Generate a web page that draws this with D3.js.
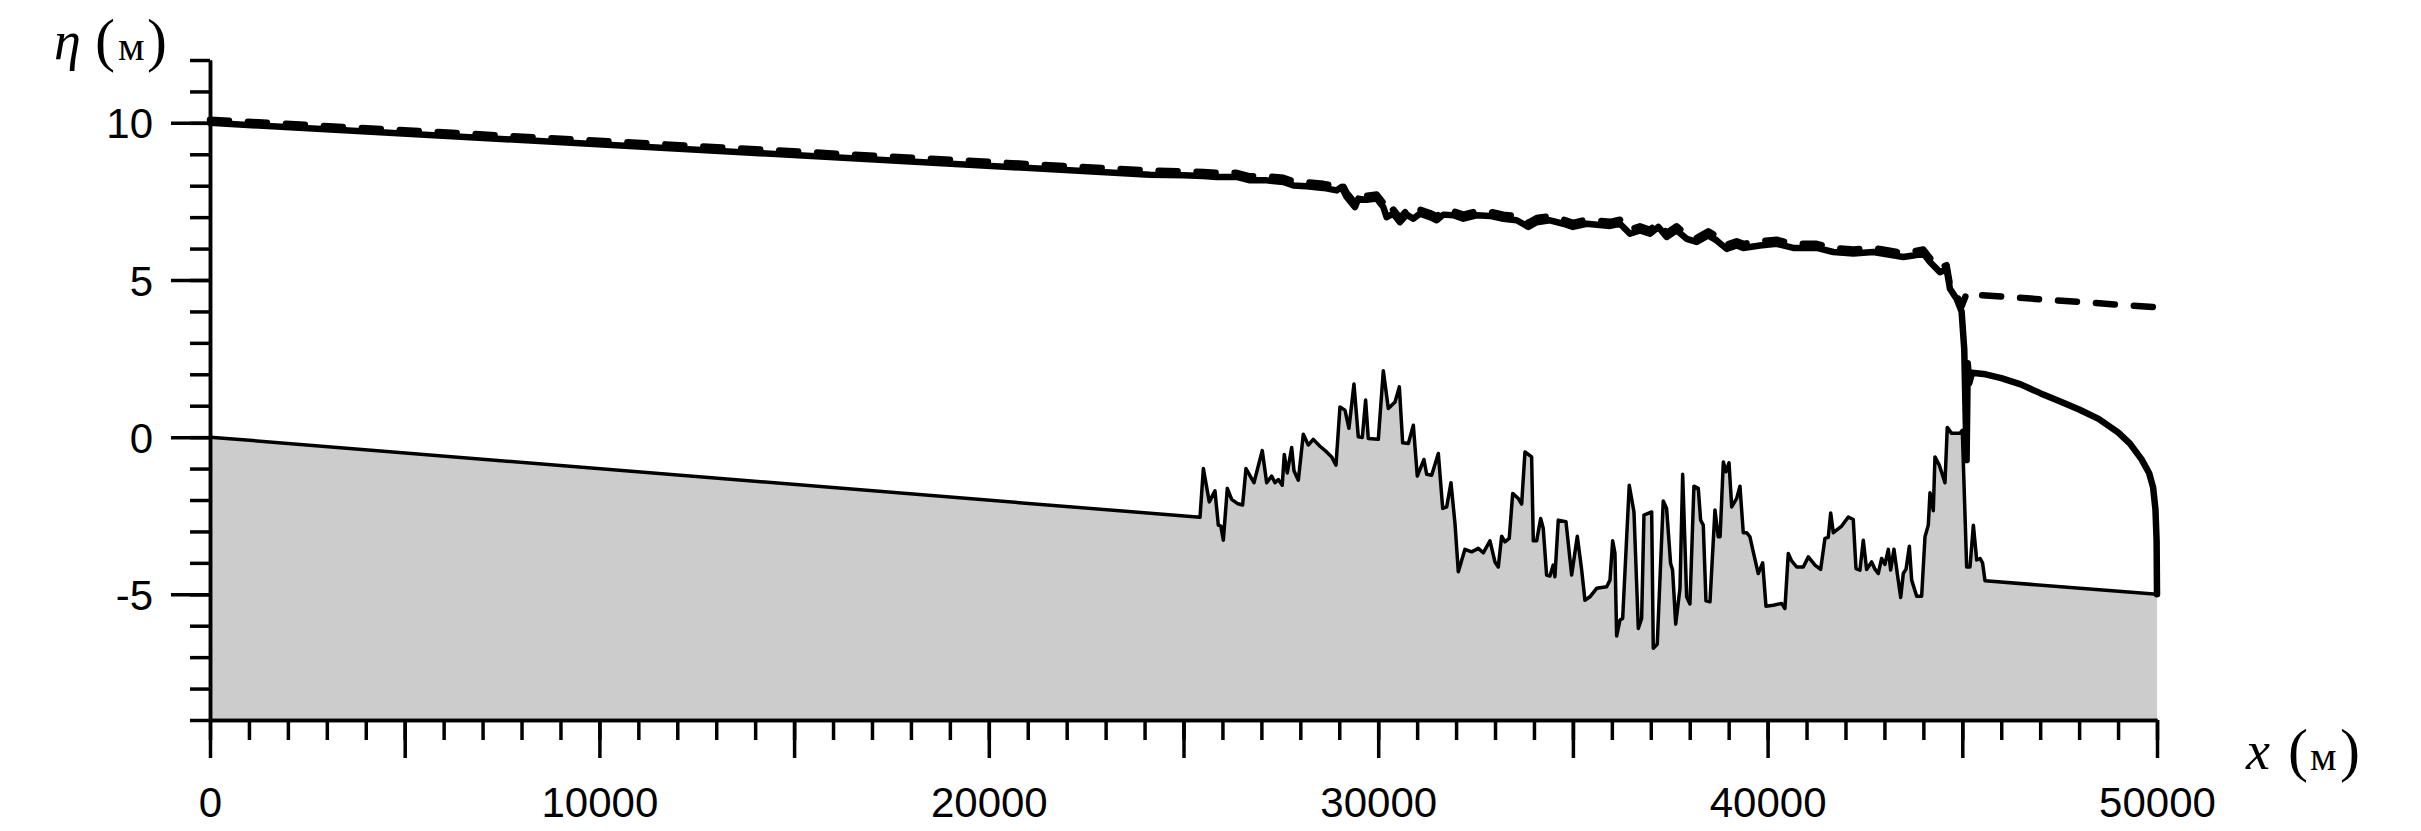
<!DOCTYPE html>
<html>
<head>
<meta charset="utf-8">
<script src="https://cdn.jsdelivr.net/npm/d3@7"></script>
<style>
  html, body { margin: 0; padding: 0; background: #ffffff; }
  svg { display: block; }
</style>
</head>
<body>
<svg id="chart" width="2421" height="831"></svg>
<script>
// ---------------- DATA ----------------
// bed profile (m)
const bedX = [0, 25424, 25510, 25662, 25808, 25894, 25960, 26023, 26125, 26237, 26380, 26518, 26604, 26809, 26920, 27023, 27136, 27264, 27350, 27435, 27536, 27588, 27665, 27778, 27837, 27948, 28077, 28205, 28333, 28505, 28676, 28805, 28916, 29018, 29146, 29249, 29378, 29489, 29592, 29677, 29745, 30003, 30131, 30260, 30432, 30543, 30628, 30774, 30902, 31004, 31175, 31244, 31373, 31544, 31656, 31759, 31869, 31972, 32057, 32228, 32400, 32570, 32698, 32870, 32998, 33084, 33170, 33255, 33365, 33454, 33598, 33684, 33769, 33940, 33983, 34069, 34172, 34238, 34325, 34410, 34495, 34538, 34624, 34822, 34968, 35113, 35225, 35309, 35437, 35609, 35867, 35952, 36021, 36080, 36123, 36209, 36278, 36447, 36568, 36680, 36765, 36825, 37023, 37064, 37166, 37320, 37406, 37509, 37560, 37640, 37750, 37819, 37921, 38006, 38108, 38220, 38280, 38348, 38417, 38520, 38648, 38733, 38780, 38863, 38932, 39009, 39078, 39206, 39290, 39375, 39461, 39546, 39632, 39760, 39873, 39958, 40146, 40360, 40445, 40531, 40617, 40745, 40916, 41046, 41217, 41362, 41473, 41558, 41620, 41688, 41902, 42072, 42200, 42270, 42372, 42457, 42543, 42671, 42757, 42842, 42928, 43013, 43100, 43160, 43245, 43330, 43418, 43485, 43555, 43640, 43700, 43829, 43956, 44042, 44127, 44170, 44255, 44298, 44409, 44555, 44614, 44726, 44940, 45000, 45112, 45198, 45284, 45370, 45455, 45520, 45583, 50000];
const bedEta = [0, -2.55, -1.00, -2.06, -1.71, -2.80, -2.83, -3.28, -1.63, -1.98, -2.11, -2.16, -1.00, -1.45, -0.92, -0.43, -1.45, -1.24, -1.45, -1.35, -1.53, -0.55, -1.14, -0.33, -1.07, -1.37, 0.09, -0.25, -0.07, -0.29, -0.47, -0.63, -0.89, 0.96, 0.86, 0.28, 1.69, 0.01, -0.01, 1.18, -0.04, -0.07, 2.11, 0.91, 1.12, 1.60, -0.18, -0.20, 0.38, -1.24, -0.71, -1.18, -1.21, -0.52, -2.27, -2.22, -1.45, -2.75, -4.28, -3.57, -3.65, -3.54, -3.68, -3.30, -3.97, -4.13, -3.15, -3.33, -3.22, -1.79, -1.95, -2.13, -0.47, -0.63, -3.30, -3.30, -2.59, -2.90, -4.39, -4.42, -4.07, -4.44, -2.64, -2.69, -4.39, -3.15, -4.23, -5.19, -5.08, -4.81, -4.76, -4.55, -3.30, -3.70, -6.33, -5.82, -5.77, -1.53, -2.38, -6.09, -5.77, -2.48, -2.38, -6.72, -6.59, -2.03, -2.27, -4.02, -4.23, -5.95, -4.81, -1.18, -5.08, -5.31, -1.56, -1.63, -2.64, -2.80, -5.21, -5.24, -2.32, -3.17, -3.17, -0.79, -1.10, -0.82, -2.22, -1.95, -1.56, -3.04, -3.04, -3.17, -3.65, -4.34, -4.00, -5.38, -5.35, -5.29, -5.45, -3.70, -3.94, -4.13, -4.13, -3.81, -4.07, -4.21, -3.22, -3.19, -2.41, -3.04, -2.83, -2.54, -2.62, -4.18, -4.23, -3.28, -4.21, -3.97, -4.20, -4.34, -3.86, -4.05, -3.57, -4.23, -3.57, -4.34, -5.10, -4.34, -4.20, -3.47, -4.55, -5.06, -5.06, -3.17, -2.80, -1.77, -2.34, -0.63, -0.89, -1.45, 0.31, 0.12, 0.12, 0.22, -4.13, -4.13, -2.80, -3.91, -3.86, -4.00, -4.57, -5.00];

// free surface, solid line (m)
const solidX = [0, 24139, 24995, 25508, 25851, 26365, 26707, 27135, 27563, 27820, 28162, 28590, 28933, 29061, 29190, 29404, 29489, 29703, 29960, 30131, 30217, 30388, 30559, 30731, 30902, 31073, 31330, 31501, 31672, 31929, 32186, 32528, 32870, 33213, 33555, 33855, 34069, 34411, 34754, 35000, 35354, 35952, 36209, 36466, 36722, 36979, 37193, 37407, 37664, 37921, 38178, 38477, 38691, 38948, 39205, 39376, 39804, 40232, 40660, 41260, 41688, 42201, 42714, 43142, 43485, 43741, 43998, 44170, 44426, 44597, 44683, 44854, 44982, 45050, 45110, 45140, 45180, 45250, 45600, 46000, 46500, 47000, 47500, 48000, 48500, 49000, 49300, 49600, 49800, 49900, 49960, 49990, 50000];
const solidEta = [10.00, 8.35, 8.33, 8.31, 8.28, 8.28, 8.17, 8.17, 8.12, 8.01, 7.98, 7.93, 7.85, 7.96, 7.64, 7.32, 7.59, 7.55, 7.59, 7.32, 7.00, 7.11, 6.84, 7.08, 6.95, 7.11, 7.00, 6.90, 7.08, 7.06, 6.95, 7.06, 7.04, 6.95, 6.90, 6.69, 6.84, 6.90, 6.79, 6.69, 6.79, 6.72, 6.79, 6.47, 6.58, 6.47, 6.69, 6.37, 6.58, 6.31, 6.21, 6.42, 6.26, 5.99, 6.10, 6.02, 6.10, 6.15, 6.02, 6.02, 5.89, 5.84, 5.89, 5.80, 5.73, 5.78, 5.84, 5.57, 5.25, 5.34, 4.72, 4.40, 4.00, 2.80, -0.73, 2.35, 1.72, 2.05, 2.00, 1.88, 1.68, 1.40, 1.14, 0.88, 0.58, 0.15, -0.20, -0.70, -1.15, -1.60, -2.30, -3.30, -5.00];

// free surface, dashed line (m)
const dashX = [0, 24139, 24995, 25508, 25851, 26365, 26707, 27135, 27563, 27820, 28162, 28590, 28933, 29061, 29190, 29404, 29489, 29703, 29960, 30131, 30217, 30388, 30559, 30731, 30902, 31073, 31330, 31501, 31672, 31929, 32186, 32528, 32870, 33213, 33555, 33855, 34069, 34411, 34754, 35000, 35354, 35952, 36209, 36466, 36722, 36979, 37193, 37407, 37664, 37921, 38178, 38477, 38691, 38948, 39205, 39376, 39804, 40232, 40660, 41260, 41688, 42201, 42714, 43142, 43485, 43741, 43998, 44170, 44426, 44597, 44683, 44854, 44982, 45110, 45455, 50000];
const dashEta = [10.10, 8.48, 8.46, 8.44, 8.41, 8.41, 8.30, 8.30, 8.25, 8.14, 8.11, 8.06, 7.98, 8.09, 7.77, 7.45, 7.72, 7.68, 7.72, 7.45, 7.13, 7.24, 6.97, 7.21, 7.08, 7.24, 7.13, 7.03, 7.21, 7.19, 7.08, 7.19, 7.17, 7.08, 7.03, 6.82, 6.97, 7.03, 6.92, 6.82, 6.92, 6.85, 6.92, 6.60, 6.71, 6.60, 6.82, 6.50, 6.71, 6.44, 6.34, 6.55, 6.39, 6.12, 6.23, 6.15, 6.23, 6.28, 6.15, 6.15, 6.02, 5.97, 6.02, 5.93, 5.86, 5.91, 5.97, 5.70, 5.38, 5.47, 4.85, 4.53, 4.16, 4.57, 4.52, 4.13];

// ticks
const xMinorTicks = d3.range(0, 50001, 1000);
const xMajorTicks = [0, 5000, 10000, 15000, 20000, 25000, 30000, 35000, 40000, 45000, 50000];
const xLabelTicks = [0, 10000, 20000, 30000, 40000, 50000];
const yMinorTicks = d3.range(-9, 13, 1);
const yMajorTicks = [-5, 0, 5, 10];

// ---------------- CHART ----------------
const svg = d3.select("#chart");
const x = d3.scaleLinear().domain([0, 50000]).range([210, 2157]);
const y = d3.scaleLinear().domain([-9, 12]).range([720, 60]);

const bed = bedX.map((v, i) => [v, bedEta[i]]);
const solid = solidX.map((v, i) => [v, solidEta[i]]);
const dashed = dashX.map((v, i) => [v, dashEta[i]]);

const line = d3.line().x(d => x(d[0])).y(d => y(d[1]));
const area = d3.area().x(d => x(d[0])).y0(y(-9)).y1(d => y(d[1]));

svg.append("path").datum(bed).attr("d", area).attr("fill", "#cccccc").attr("stroke", "none");
svg.append("path").datum(bed).attr("d", line).attr("fill", "none")
  .attr("stroke", "#000").attr("stroke-width", 3.5).attr("stroke-linejoin", "round");

svg.append("path").datum(dashed).attr("d", line).attr("fill", "none")
  .attr("stroke", "#000").attr("stroke-width", 6.5)
  .attr("stroke-dasharray", "19,19").attr("stroke-linecap", "round").attr("stroke-linejoin", "round");

svg.append("path").datum(solid).attr("d", line).attr("fill", "none")
  .attr("stroke", "#000").attr("stroke-width", 6.5)
  .attr("stroke-linejoin", "round").attr("stroke-linecap", "round");

// axes
function styleAxis(g) {
  g.selectAll("path.domain").attr("stroke", "#000").attr("stroke-width", 3.5);
  g.selectAll(".tick line").attr("stroke", "#000").attr("stroke-width", 3.5);
  g.selectAll(".tick text").attr("fill", "#000")
    .style("font-family", "'Liberation Sans', Arial, sans-serif").style("font-size", "42px");
}

const xMinor = svg.append("g").attr("transform", `translate(0,${y(-9)})`)
  .call(d3.axisBottom(x).tickValues(xMinorTicks).tickSize(20).tickSizeOuter(0).tickFormat(""));
styleAxis(xMinor);
const xMajor = svg.append("g").attr("transform", `translate(0,${y(-9)})`)
  .call(d3.axisBottom(x).tickValues(xMajorTicks).tickSize(38).tickSizeOuter(0)
    .tickPadding(29).tickFormat(d => xLabelTicks.includes(d) ? String(d) : ""));
styleAxis(xMajor);

const yMinor = svg.append("g").attr("transform", `translate(${x(0)},0)`)
  .call(d3.axisLeft(y).tickValues(yMinorTicks).tickSize(20).tickSizeOuter(0).tickFormat(""));
styleAxis(yMinor);
const yMajor = svg.append("g").attr("transform", `translate(${x(0)},0)`)
  .call(d3.axisLeft(y).tickValues(yMajorTicks).tickSize(39).tickSizeOuter(0).tickPadding(18)
    .tickFormat(d => String(d)));
styleAxis(yMajor);
yMajor.selectAll(".tick text").attr("dy", "0.36em");

// axis titles
const serif = "'Liberation Serif', 'DejaVu Serif', serif";
function title(parts) {
  parts.forEach(p => {
    svg.append("text").attr("x", p.x).attr("y", p.y)
      .style("font-family", serif).style("font-size", p.size + "px")
      .style("font-style", p.italic ? "italic" : "normal")
      .attr("fill", "#000").text(p.t);
  });
}
title([
  { t: "η", x: 54, y: 59, size: 54, italic: true },
  { t: "(", x: 95, y: 60, size: 60 },
  { t: "м", x: 118, y: 60, size: 42 },
  { t: ")", x: 147, y: 60, size: 60 }
]);
title([
  { t: "x", x: 2246, y: 769, size: 54, italic: true },
  { t: "(", x: 2288, y: 770, size: 60 },
  { t: "м", x: 2310, y: 770, size: 42 },
  { t: ")", x: 2340, y: 770, size: 60 }
]);
</script>
</body>
</html>
